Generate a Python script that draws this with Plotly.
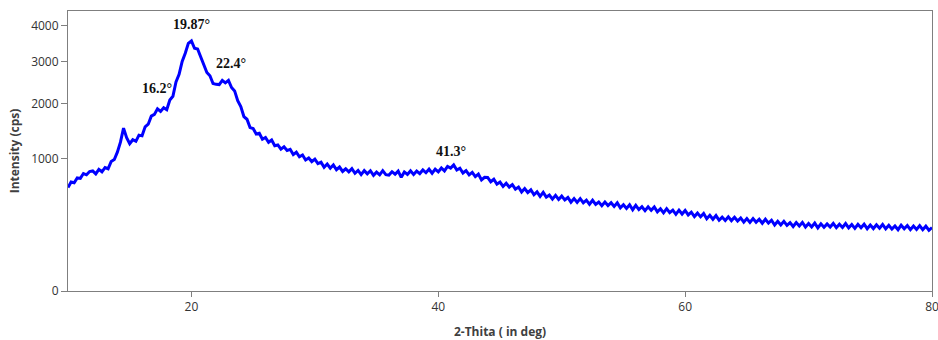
import numpy as np
import plotly.graph_objects as go

# 2-theta grid (deg), 0.25 deg step
two_theta = [10 + 0.25 * i for i in range(281)]

# Intensity (cps) (2 deg per row)
intensity = [
    610, 676, 667, 727, 722, 785, 768, 812,
    820, 780, 842, 809, 868, 851, 955, 984,
    1097, 1261, 1510, 1339, 1235, 1302, 1275, 1383,
    1370, 1535, 1584, 1741, 1775, 1890, 1837, 1912,
    1870, 2077, 2158, 2490, 2674, 3002, 3216, 3491,
    3559, 3354, 3335, 3110, 2949, 2719, 2636, 2450,
    2430, 2425, 2525, 2465, 2525, 2356, 2279, 2062,
    1935, 1732, 1679, 1520, 1503, 1404, 1417, 1311,
    1342, 1259, 1299, 1202, 1214, 1146, 1184, 1123,
    1143, 1059, 1096, 1026, 1052, 977, 1006, 953,
    990, 925, 944, 872, 917, 859, 906, 837,
    874, 813, 850, 808, 852, 789, 827, 771,
    825, 781, 823, 761, 804, 768, 824, 771,
    765, 810, 776, 818, 735, 807, 773, 821,
    772, 819, 785, 834, 796, 844, 789, 845,
    807, 861, 821, 884, 859, 905, 834, 858,
    792, 825, 768, 800, 744, 778, 703, 736,
    734, 679, 711, 649, 676, 622, 660, 615,
    644, 590, 615, 557, 597, 552, 583, 527,
    559, 509, 553, 501, 524, 480, 520, 477,
    512, 472, 498, 449, 486, 447, 486, 443,
    470, 428, 468, 427, 451, 415, 451, 416,
    444, 407, 442, 394, 423, 388, 423, 376,
    417, 377, 404, 368, 403, 370, 401, 356,
    385, 348, 386, 349, 372, 335, 372, 337,
    369, 329, 353, 315, 345, 313, 342, 297,
    326, 293, 324, 285, 311, 283, 313, 282,
    309, 279, 304, 270, 299, 268, 299, 269,
    293, 261, 293, 262, 285, 248, 277, 248,
    276, 245, 266, 237, 267, 240, 268, 233,
    259, 233, 262, 227, 257, 231, 256, 233,
    260, 228, 254, 230, 259, 227, 251, 223,
    253, 228, 254, 221, 248, 222, 250, 224,
    252, 220, 246, 218, 241, 214, 246, 221,
    244, 214, 240, 216, 243, 214, 239, 210,
    229,
]

y_ticks = [0, 1000, 2000, 3000, 4000]
x_ticks = [20, 40, 60, 80]

peak_labels = ["16.2°", "19.87°", "22.4°", "41.3°"]
peak_x = [17.2, 20.0, 23.2, 41.0]
peak_y = [2330, 4030, 2940, 1115]

# square-root intensity axis
sq = lambda v: np.sqrt(np.asarray(v, dtype=float))

fig = go.Figure()
fig.add_trace(go.Scatter(
    x=two_theta, y=sq(intensity), mode="lines",
    line=dict(color="#0000FF", width=3), showlegend=False,
))

for t, xx, yy in zip(peak_labels, peak_x, peak_y):
    fig.add_annotation(x=xx, y=float(sq(yy)), text="<b>%s</b>" % t, showarrow=False,
                       font=dict(family="Liberation Serif", size=14, color="#111111"))

fig.update_layout(
    width=938, height=340,
    margin=dict(l=68, r=6, t=11, b=49),
    paper_bgcolor="white", plot_bgcolor="white",
    font=dict(family="Open Sans", size=12, color="#333333"),
)
fig.update_xaxes(
    range=[10, 80], tickvals=x_ticks, ticktext=[str(v) for v in x_ticks],
    ticklabeloverflow="allow", automargin=False,
    showgrid=False, zeroline=False, showline=True, linecolor="#7f7f7f", linewidth=1,
    mirror=True, ticks="outside", ticklen=5, tickcolor="#7f7f7f",
    tickfont=dict(family="Open Sans", size=12, color="#333333"),
    title=dict(text="<b>2-Thita ( in deg)</b>", font=dict(family="Open Sans", size=12, color="#404040"), standoff=14),
)
fig.update_yaxes(
    range=[0, 66.8], tickvals=list(sq(y_ticks)), ticktext=[str(v) for v in y_ticks],
    automargin=False,
    showgrid=False, zeroline=False, showline=True, linecolor="#7f7f7f", linewidth=1,
    mirror=True, ticks="outside", ticklen=6, tickcolor="#7f7f7f",
    tickfont=dict(family="Open Sans", size=12, color="#333333"),
    title=dict(text="<b>Intensity (cps)</b>", font=dict(family="Open Sans", size=12, color="#404040"), standoff=8),
)

fig.write_html("out.html")
